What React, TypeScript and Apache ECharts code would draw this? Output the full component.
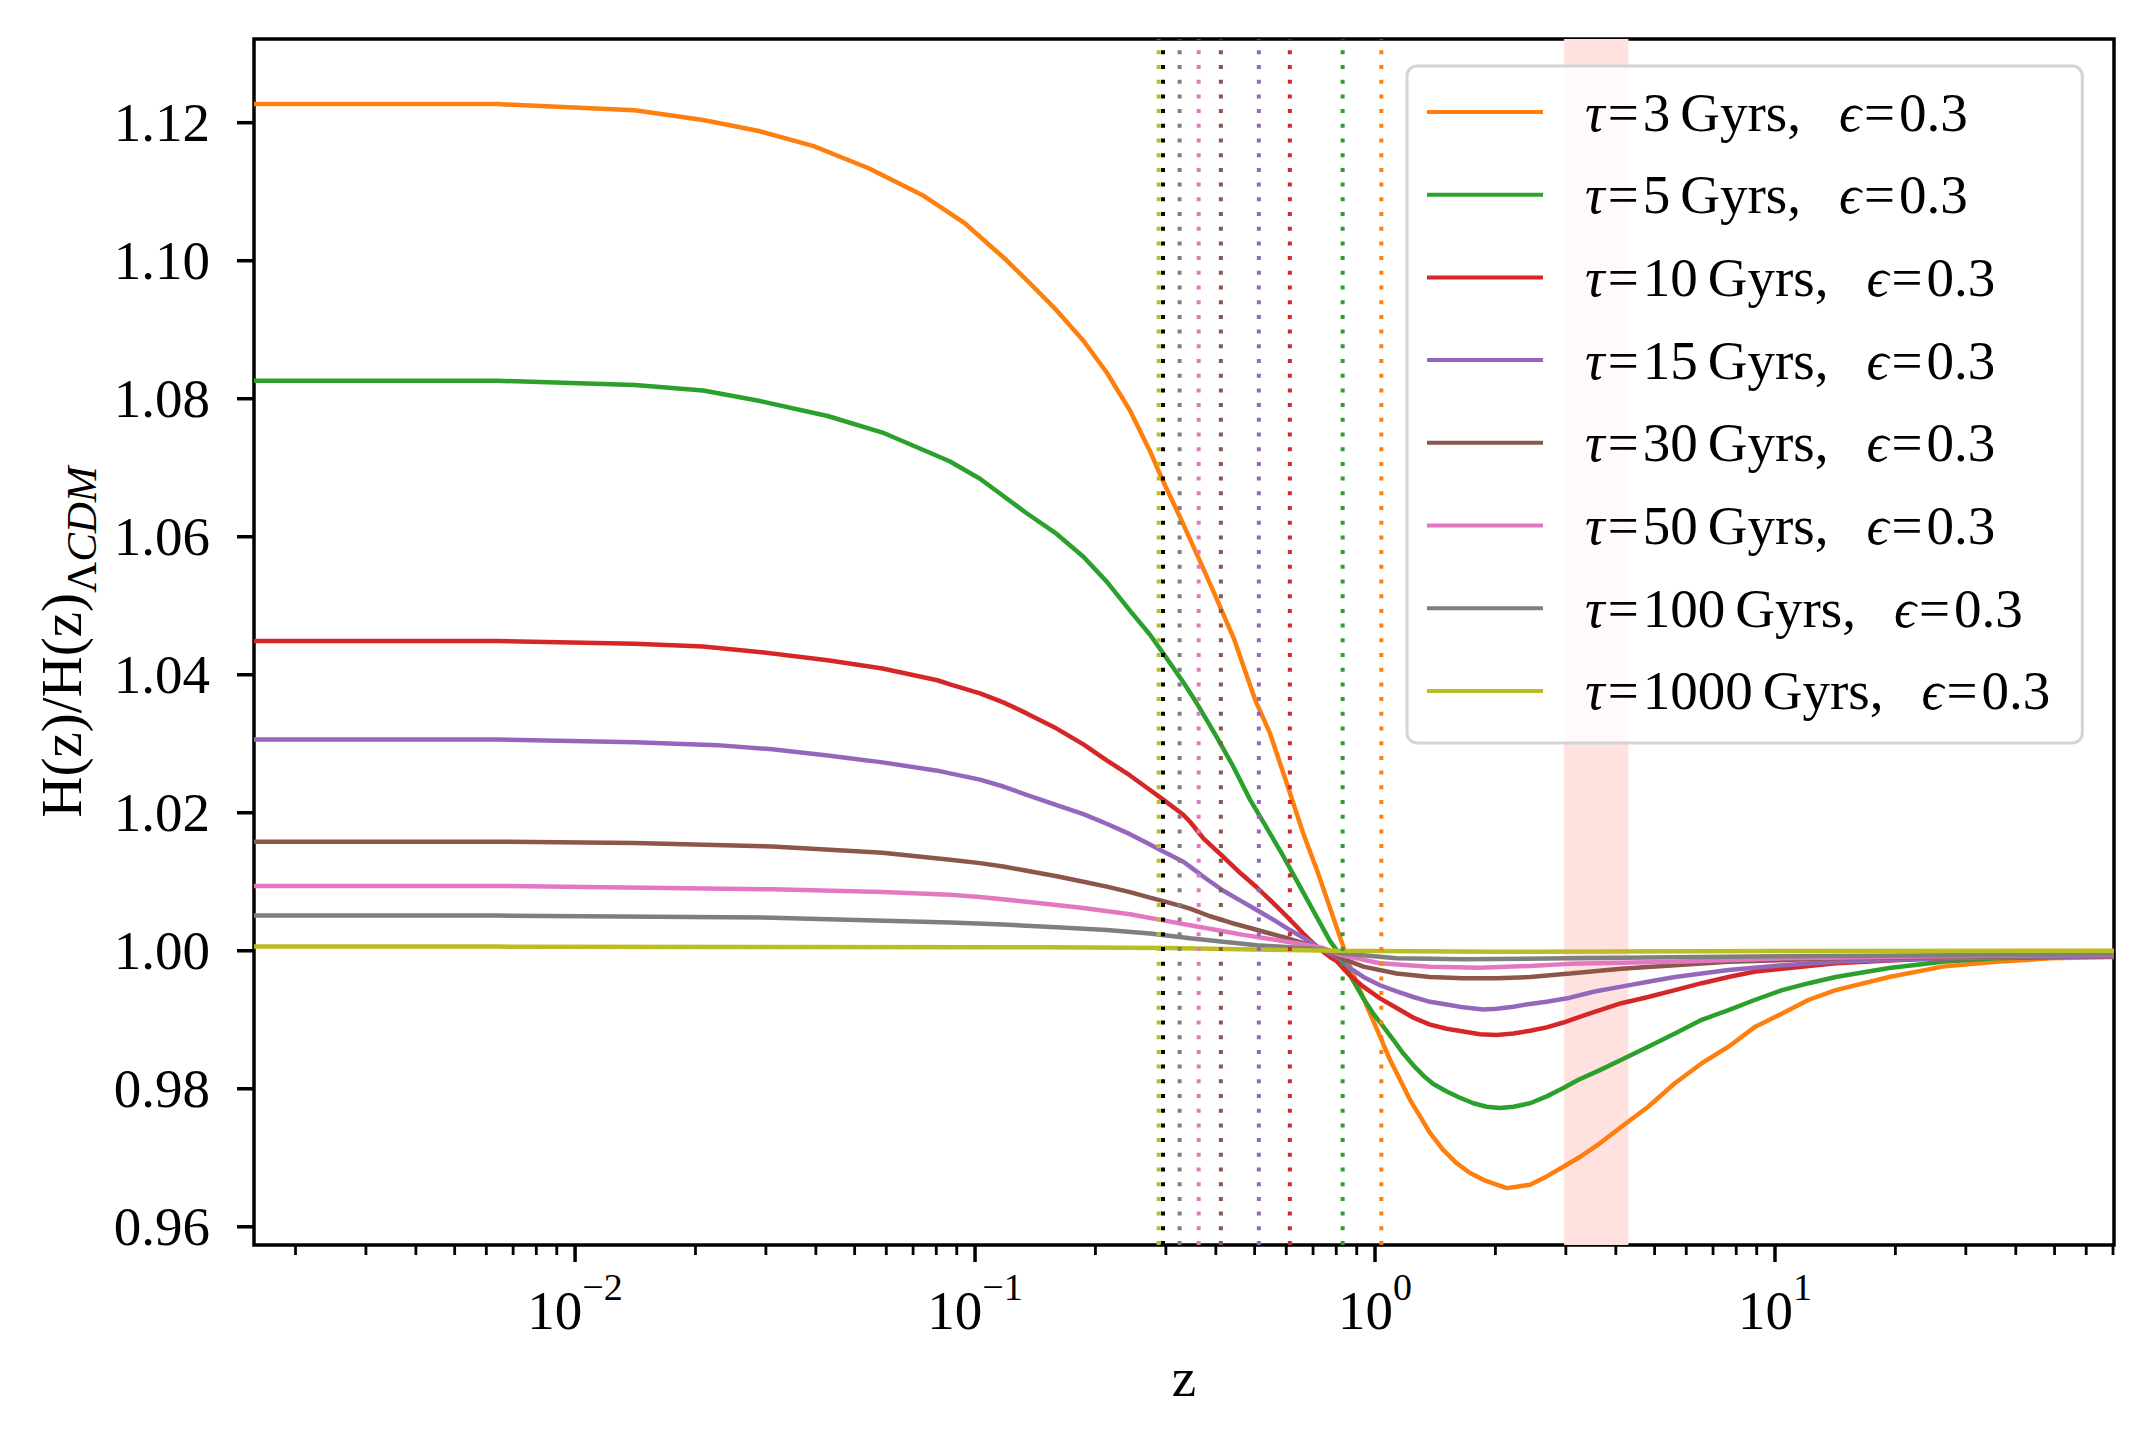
import React, { useEffect, useRef } from 'react';
import * as echarts from 'echarts';

const FONT = "'Liberation Serif', 'DejaVu Serif', serif";

const X_MIN = 0.001575;
const X_MAX = 70.4;
const Y_MIN = 0.95736;
const Y_MAX = 1.13213;

const SERIES_NAMES = [
  'τ=3 Gyrs, ϵ=0.3',
  'τ=5 Gyrs, ϵ=0.3',
  'τ=10 Gyrs, ϵ=0.3',
  'τ=15 Gyrs, ϵ=0.3',
  'τ=30 Gyrs, ϵ=0.3',
  'τ=50 Gyrs, ϵ=0.3',
  'τ=100 Gyrs, ϵ=0.3',
  'τ=1000 Gyrs, ϵ=0.3',
];
const SERIES_COLORS = ['#ff7f0e', '#2ca02c', '#d62728', '#9467bd', '#8c564b', '#e377c2', '#7f7f7f', '#bcbd22'];

const TAU3: [number, number][] = [
  [0.001575, 1.1227], [0.0064, 1.1227], [0.0141, 1.1218], [0.0209, 1.1204], [0.0288, 1.1188], [0.0395, 1.1166],
  [0.0542, 1.1134], [0.0744, 1.1094], [0.0944, 1.1054], [0.1197, 1.1001], [0.1346, 1.0972], [0.16, 1.0928],
  [0.1866, 1.0884], [0.2134, 1.0838], [0.244, 1.0783], [0.2738, 1.0724], [0.2955, 1.0680], [0.3317, 1.0618],
  [0.3615, 1.0570], [0.3976, 1.0516], [0.444, 1.0452], [0.5012, 1.0364], [0.5464, 1.0315], [0.6013, 1.0243],
  [0.6616, 1.0170], [0.7148, 1.0118], [0.7718, 1.0062], [0.8331, 1.0006], [0.866, 0.9977], [0.917, 0.9943],
  [0.972, 0.9909], [1.029, 0.9876], [1.090, 0.9842], [1.155, 0.9813], [1.223, 0.9784], [1.296, 0.9760],
  [1.372, 0.9736], [1.482, 0.9711], [1.601, 0.9692], [1.728, 0.9678], [1.866, 0.9668], [2.015, 0.9661],
  [2.134, 0.9656], [2.261, 0.9658], [2.441, 0.9661], [2.687, 0.9673], [2.957, 0.9687], [3.227, 0.9700],
  [3.650, 0.9721], [4.130, 0.9745], [4.818, 0.9774], [5.62, 0.9808], [6.56, 0.9837], [7.65, 0.9861],
  [8.93, 0.9890], [10.42, 0.9909], [12.15, 0.9929], [14.18, 0.9943], [19.30, 0.9962], [26.25, 0.9977],
  [35.7, 0.9984], [48.7, 0.9989], [70.4, 0.9991],
];
const TAU5: [number, number][] = [
  [0.001575, 1.0826], [0.0064, 1.0826], [0.0141, 1.0820], [0.0209, 1.0812], [0.0288, 1.0797], [0.0428, 1.0775],
  [0.0587, 1.0751], [0.0805, 1.0717], [0.0866, 1.0709], [0.1029, 1.0684], [0.1177, 1.0659], [0.1346, 1.0634],
  [0.16, 1.0604], [0.1866, 1.0571], [0.2134, 1.0535], [0.244, 1.0493], [0.2738, 1.0458], [0.2955, 1.0431],
  [0.3317, 1.0389], [0.3582, 1.0359], [0.4018, 1.0310], [0.4421, 1.0267], [0.4870, 1.0219], [0.5362, 1.0178],
  [0.5899, 1.0137], [0.6494, 1.0093], [0.7148, 1.0049], [0.772, 1.0014], [0.802, 1.0001], [0.833, 0.9982],
  [0.883, 0.9956], [0.935, 0.9931], [0.990, 0.9909], [1.049, 0.9890], [1.111, 0.9871], [1.177, 0.9851],
  [1.247, 0.9834], [1.321, 0.9819], [1.399, 0.9807], [1.511, 0.9796], [1.631, 0.9787], [1.762, 0.9779],
  [1.902, 0.9774], [2.054, 0.9772], [2.218, 0.9774], [2.441, 0.9779], [2.687, 0.9789], [2.957, 0.9801],
  [3.227, 0.9813], [3.650, 0.9827], [4.130, 0.9842], [4.818, 0.9861], [5.62, 0.9880], [6.56, 0.9900],
  [7.65, 0.9914], [8.93, 0.9929], [10.42, 0.9943], [12.15, 0.9953], [14.18, 0.9962], [19.30, 0.9975],
  [26.25, 0.9984], [35.7, 0.9989], [48.7, 0.9991], [70.4, 0.9992],
];
const TAU10: [number, number][] = [
  [0.001575, 1.0449], [0.0064, 1.0449], [0.0141, 1.0445], [0.0209, 1.0441], [0.0288, 1.0433], [0.0428, 1.0421],
  [0.0587, 1.0409], [0.0805, 1.0392], [0.0866, 1.0386], [0.1029, 1.0373], [0.1177, 1.0360], [0.1346, 1.0344],
  [0.16, 1.0322], [0.1866, 1.0299], [0.2134, 1.0276], [0.244, 1.0254], [0.2738, 1.0233], [0.2955, 1.0219],
  [0.3317, 1.0197], [0.3447, 1.0187], [0.3722, 1.0163], [0.4176, 1.0136], [0.4597, 1.0113], [0.5061, 1.0092],
  [0.5568, 1.0069], [0.6131, 1.0045], [0.6616, 1.0025], [0.7148, 1.0006], [0.7718, 0.9991], [0.802, 0.9985],
  [0.866, 0.9964], [0.935, 0.9948], [1.029, 0.9931], [1.133, 0.9917], [1.247, 0.9903], [1.372, 0.9893],
  [1.511, 0.9887], [1.663, 0.9883], [1.830, 0.9879], [2.015, 0.9878], [2.218, 0.9880], [2.441, 0.9884],
  [2.687, 0.9889], [2.957, 0.9896], [3.432, 0.9909], [4.130, 0.9924], [4.818, 0.9933], [5.62, 0.9943],
  [6.56, 0.9953], [7.65, 0.9962], [8.93, 0.9970], [10.42, 0.9974], [14.18, 0.9982], [19.30, 0.9986],
  [26.25, 0.9989], [48.7, 0.9991], [70.4, 0.9992],
];
const TAU15: [number, number][] = [
  [0.001575, 1.0306], [0.0064, 1.0306], [0.0141, 1.0302], [0.0227, 1.0298], [0.0311, 1.0292], [0.0428, 1.0283],
  [0.0587, 1.0273], [0.0805, 1.0261], [0.0866, 1.0257], [0.1029, 1.0248], [0.1177, 1.0238], [0.1346, 1.0226],
  [0.16, 1.0211], [0.1866, 1.0198], [0.2134, 1.0184], [0.244, 1.0169], [0.2738, 1.0154], [0.2955, 1.0144],
  [0.3317, 1.0129], [0.3447, 1.0122], [0.3792, 1.0104], [0.4176, 1.0087], [0.4597, 1.0073], [0.5061, 1.0059],
  [0.5568, 1.0045], [0.6131, 1.0030], [0.6748, 1.0016], [0.7428, 1.0001], [0.802, 0.99915], [0.866, 0.9975],
  [0.935, 0.9962], [1.029, 0.9950], [1.133, 0.9941], [1.247, 0.9933], [1.372, 0.9926], [1.511, 0.9922],
  [1.663, 0.9918], [1.866, 0.9915], [2.015, 0.9916], [2.218, 0.9919], [2.441, 0.9923], [2.687, 0.9926],
  [3.073, 0.9932], [3.540, 0.9941], [4.130, 0.9948], [4.818, 0.9955], [5.62, 0.9962], [7.65, 0.9972],
  [10.42, 0.9979], [14.18, 0.9984], [26.25, 0.9989], [70.4, 0.9992],
];
const TAU30: [number, number][] = [
  [0.001575, 1.0158], [0.0064, 1.0158], [0.0141, 1.0156], [0.0311, 1.0151], [0.0587, 1.0142], [0.0866, 1.0132],
  [0.1029, 1.0127], [0.1177, 1.0122], [0.1346, 1.0116], [0.16, 1.0108], [0.1866, 1.0100], [0.2134, 1.0093],
  [0.244, 1.0085], [0.2738, 1.0077], [0.2955, 1.0072], [0.3317, 1.0064], [0.3447, 1.0061], [0.3868, 1.0050],
  [0.434, 1.0041], [0.487, 1.0033], [0.5464, 1.0025], [0.6131, 1.0017], [0.6879, 1.0008], [0.7718, 0.9999],
  [0.818, 0.9990], [0.935, 0.9977], [1.133, 0.9967], [1.372, 0.9962], [1.663, 0.9960], [2.015, 0.9960],
  [2.441, 0.9962], [3.073, 0.9967], [4.130, 0.9974], [5.62, 0.9979], [7.65, 0.9984], [14.18, 0.9989],
  [26.25, 0.9991], [70.4, 0.9993],
];
const TAU50: [number, number][] = [
  [0.001575, 1.0094], [0.0064, 1.0094], [0.0311, 1.0089], [0.0587, 1.0085], [0.0866, 1.0081], [0.1029, 1.0078],
  [0.1346, 1.0071], [0.1866, 1.0062], [0.244, 1.0053], [0.2955, 1.0044], [0.3447, 1.0037], [0.4018, 1.0030],
  [0.4688, 1.0023], [0.5464, 1.0017], [0.6369, 1.0011], [0.7428, 1.0004], [0.818, 0.9994], [1.029, 0.9982],
  [1.372, 0.9977], [1.830, 0.99755], [2.441, 0.9978], [3.073, 0.9981], [5.62, 0.9984], [10.42, 0.9989],
  [26.25, 0.9992], [70.4, 0.9994],
];
const TAU100: [number, number][] = [
  [0.001575, 1.0051], [0.0064, 1.0051], [0.0311, 1.0048], [0.0866, 1.0041], [0.1177, 1.0038], [0.16, 1.0034],
  [0.2134, 1.0030], [0.2738, 1.0025], [0.3447, 1.0018], [0.4176, 1.0013], [0.5061, 1.0008], [0.6131, 1.0005],
  [0.7428, 1.0002], [0.818, 0.99963], [1.133, 0.99891], [1.663, 0.99877], [3.073, 0.99891], [10.42, 0.9992],
  [70.4, 0.9995],
];
const TAU1000: [number, number][] = [
  [0.001575, 1.0006], [0.0064, 1.0006], [0.1518, 1.0005], [0.3, 1.0004], [0.5, 1.0002], [0.8, 1.0000],
  [2.0, 0.99985], [10, 0.99995], [70.4, 1.0],
];
const SERIES_DATA = [TAU3, TAU5, TAU10, TAU15, TAU30, TAU50, TAU100, TAU1000];

const TRANSITION_Z = [0.2877, 0.2951, 0.3247, 0.3623, 0.4117, 0.5123, 0.6124, 0.830, 1.037];
const TRANSITION_COLORS = ['#bcbd22', '#000000', '#7f7f7f', '#e377c2', '#8c564b', '#9467bd', '#d62728', '#2ca02c', '#ff7f0e'];

const BAND = [2.97, 4.30];

const X_MAJOR_TICKS = [0.01, 0.1, 1, 10];
const X_MINOR_TICKS = [
  0.002, 0.003, 0.004, 0.005, 0.006, 0.007, 0.008, 0.009,
  0.02, 0.03, 0.04, 0.05, 0.06, 0.07, 0.08, 0.09,
  0.2, 0.3, 0.4, 0.5, 0.6, 0.7, 0.8, 0.9,
  2, 3, 4, 5, 6, 7, 8, 9,
  20, 30, 40, 50, 60, 70,
];
const Y_TICKS = [0.96, 0.98, 1.0, 1.02, 1.04, 1.06, 1.08, 1.1, 1.12];

function legendFormatter(name: string): string {
  const m = name.match(/^τ=(\d+) Gyrs, ϵ=(.*)$/);
  if (!m) return name;
  return `{t|τ}{e|=}{n|${m[1]}}{g|Gyrs,}{i|ϵ}{e|=}{n|${m[2]}}`;
}

function xLabel(value: number): string {
  const l = Math.log10(value);
  const r = Math.round(l);
  if (Math.abs(l - r) > 1e-6) return '';
  const exp = r < 0 ? `−${Math.abs(r)}` : `${r}`;
  return `{b|10}{s|${exp}}`;
}

function yLabel(value: number): string {
  const k = value * 50;
  if (Math.abs(k - Math.round(k)) > 1e-6) return '';
  return value.toFixed(2);
}

export default function App() {
  const ref = useRef<HTMLDivElement>(null);
  useEffect(() => {
    if (!ref.current) return;
    const chart = echarts.init(ref.current, undefined, { renderer: 'svg' });
    const base = { fontFamily: FONT, fontSize: 55, lineHeight: 60, color: '#000' };

    const lineSeries = SERIES_NAMES.map((name, i) => ({
      name,
      type: 'line',
      data: SERIES_DATA[i],
      showSymbol: false,
      symbol: 'none',
      color: SERIES_COLORS[i],
      lineStyle: { width: 4.5, color: SERIES_COLORS[i] },
      z: 3,
    }));

    const option: any = {
      animation: false,
      backgroundColor: '#ffffff',
      grid: {
        left: 254, top: 39, right: 40, bottom: 202,
        show: true, borderColor: '#000', borderWidth: 3.5, backgroundColor: 'transparent',
      },
      xAxis: {
        type: 'log',
        logBase: 10,
        min: X_MIN,
        max: X_MAX,
        axisLine: { show: false },
        axisTick: { show: false },
        splitLine: { show: false },
        minorTick: { show: false },
        axisLabel: {
          margin: 23,
          formatter: xLabel,
          rich: {
            b: { fontFamily: FONT, fontSize: 55, lineHeight: 70, verticalAlign: 'bottom', color: '#000' },
            s: { fontFamily: FONT, fontSize: 38, lineHeight: 40, verticalAlign: 'top', color: '#000' },
          },
        },
        name: 'z',
        nameLocation: 'middle',
        nameGap: 105,
        nameTextStyle: { fontFamily: FONT, fontSize: 55, color: '#000' },
      },
      yAxis: {
        type: 'value',
        min: Y_MIN,
        max: Y_MAX,
        splitNumber: 8,
        axisLine: { show: false },
        axisTick: { show: false },
        splitLine: { show: false },
        axisLabel: { margin: 44, formatter: yLabel, fontFamily: FONT, fontSize: 55, color: '#000' },
        name: '{n|H(z)/H(z)}{l|Λ}{c|CDM}',
        nameLocation: 'middle',
        nameRotate: 90,
        nameGap: 149,
        nameTextStyle: {
          fontFamily: FONT,
          fontSize: 57,
          color: '#000',
          rich: {
            n: { fontFamily: FONT, fontSize: 57, lineHeight: 70, verticalAlign: 'top', color: '#000' },
            l: { fontFamily: FONT, fontSize: 43, lineHeight: 70, verticalAlign: 'bottom', color: '#000' },
            c: { fontFamily: FONT, fontSize: 43, lineHeight: 70, verticalAlign: 'bottom', fontStyle: 'italic', color: '#000' },
          },
        },
      },
      legend: {
        data: SERIES_NAMES,
        orient: 'vertical',
        left: 1407,
        top: 66,
        padding: [16, 32, 22, 20],
        itemGap: 22.7,
        itemWidth: 116,
        itemHeight: 4,
        icon: 'rect',
        backgroundColor: 'rgba(255,255,255,0.8)',
        borderColor: '#d4d4d4',
        borderWidth: 3,
        borderRadius: 10,
        selectedMode: false,
        formatter: legendFormatter,
        textStyle: {
          ...base,
          rich: {
            t: { ...base, fontStyle: 'italic', padding: [0, 0, 0, 37] },
            i: { ...base, fontStyle: 'italic', padding: [0, 0, 0, 38] },
            e: { ...base, padding: [0, 4, 0, 3] },
            g: { ...base, padding: [0, 0, 0, 10] },
            n: { ...base },
          },
        },
        z: 10,
      },
      series: [
        {
          name: 'band',
          type: 'custom',
          silent: true,
          clip: false,
          z: 1,
          data: [[BAND[0], BAND[1]]],
          renderItem: (params: any, api: any) => {
            const p0 = api.coord([api.value(0), Y_MAX]);
            const p1 = api.coord([api.value(1), Y_MIN]);
            return {
              type: 'rect',
              shape: { x: p0[0], y: p0[1], width: p1[0] - p0[0], height: p1[1] - p0[1] },
              style: { fill: '#ffe2e0' },
            };
          },
        },
        ...lineSeries,
        {
          name: 'transitions',
          type: 'custom',
          silent: true,
          clip: false,
          z: 4,
          data: TRANSITION_Z.map((z, i) => [z, i]),
          renderItem: (params: any, api: any) => {
            const z = api.value(0);
            const idx = api.value(1);
            const top = api.coord([z, Y_MAX]);
            const bot = api.coord([z, Y_MIN]);
            return {
              type: 'line',
              shape: { x1: top[0], y1: bot[1], x2: top[0], y2: top[1] },
              style: { stroke: TRANSITION_COLORS[idx], lineWidth: 4, lineDash: [4, 10.7], fill: null },
            };
          },
        },
        {
          name: 'xticks',
          type: 'custom',
          silent: true,
          clip: false,
          z: 5,
          data: [...X_MAJOR_TICKS.map((v) => [v, 1]), ...X_MINOR_TICKS.map((v) => [v, 0])],
          renderItem: (params: any, api: any) => {
            const major = api.value(1) === 1;
            const p = api.coord([api.value(0), Y_MIN]);
            return {
              type: 'line',
              shape: { x1: p[0], y1: p[1], x2: p[0], y2: p[1] + (major ? 17 : 10) },
              style: { stroke: '#000', lineWidth: major ? 3.5 : 2.8 },
            };
          },
        },
        {
          name: 'yticks',
          type: 'custom',
          silent: true,
          clip: false,
          z: 5,
          data: Y_TICKS.map((v) => [X_MIN, v]),
          renderItem: (params: any, api: any) => {
            const p = api.coord([X_MIN, api.value(1)]);
            return {
              type: 'line',
              shape: { x1: p[0], y1: p[1], x2: p[0] - 17, y2: p[1] },
              style: { stroke: '#000', lineWidth: 3.5 },
            };
          },
        },
      ],
    };
    chart.setOption(option);
    return () => chart.dispose();
  }, []);

  return (
    <div
      ref={ref}
      style={{ position: 'fixed', left: 0, top: 0, width: 2154, height: 1447, background: '#fff' }}
    />
  );
}
